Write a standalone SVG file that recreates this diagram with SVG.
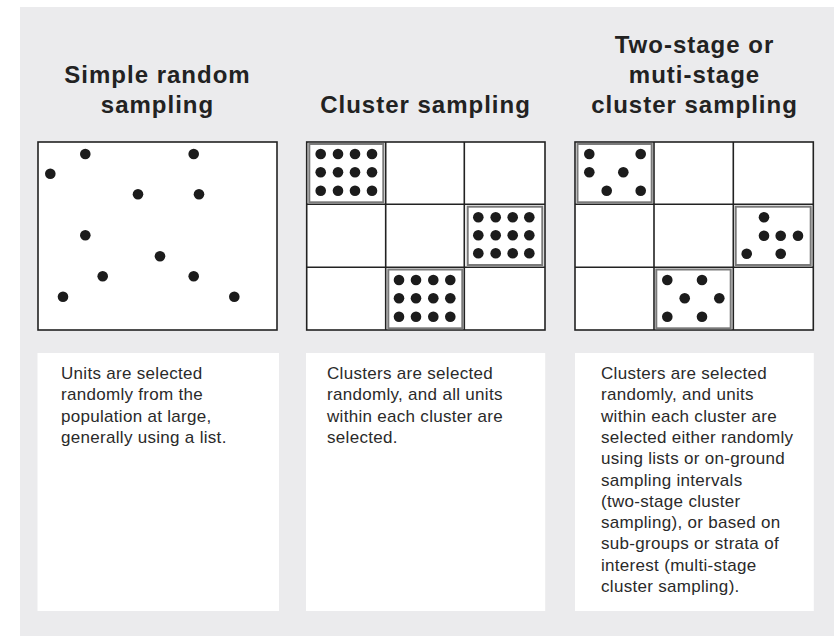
<svg xmlns="http://www.w3.org/2000/svg" width="834" height="636" viewBox="0 0 834 636">
<style>
.title{font-family:"Liberation Sans",Arial,sans-serif;font-weight:bold;font-size:24px;letter-spacing:1px;fill:#222;text-anchor:middle}
.body{font-family:"Liberation Sans",Arial,sans-serif;font-size:17px;letter-spacing:0.3px;fill:#2a2a2a}
.frame{fill:#fff;stroke:#222;stroke-width:1.6}
.grid{stroke:#222;stroke-width:1.6;fill:none}
.clus{fill:#fff;stroke:#7a7a7a;stroke-width:2}
.dot{fill:#1c1c1c}
.card{fill:#fff}
</style>
<defs>
<circle id="d" r="5.3" class="dot"/>
</defs>
<rect x="20" y="7" width="814" height="629" fill="#ebebed"/>

<g id="simple-random">
<text class="title" x="157.5" y="83">Simple random</text>
<text class="title" x="157.5" y="113">sampling</text>
<rect class="frame" x="38" y="142" width="239" height="188"/>
<use href="#d" x="85.3" y="154"/>
<use href="#d" x="193.7" y="154"/>
<use href="#d" x="50.3" y="173.7"/>
<use href="#d" x="138" y="194.3"/>
<use href="#d" x="199" y="194.3"/>
<use href="#d" x="85.3" y="235.3"/>
<use href="#d" x="160" y="256.3"/>
<use href="#d" x="102.7" y="276.3"/>
<use href="#d" x="193.7" y="276.3"/>
<use href="#d" x="63" y="296.7"/>
<use href="#d" x="234.3" y="296.7"/>
</g>

<g id="cluster">
<text class="title" x="425.5" y="113">Cluster sampling</text>
<rect class="frame" x="306.7" y="142" width="238.3" height="188"/>
<path class="grid" d="M385.7 142V330M464.3 142V330M306.7 204.3H545M306.7 267.3H545"/>
<rect class="clus" x="309.3" y="144" width="74" height="58.3"/>
<rect class="clus" x="467.7" y="206.7" width="74.6" height="58.3"/>
<rect class="clus" x="388.3" y="269.5" width="74" height="58.8"/>
<g>
<use href="#d" x="320.7" y="154"/><use href="#d" x="338" y="154"/><use href="#d" x="355" y="154"/><use href="#d" x="372" y="154"/>
<use href="#d" x="320.7" y="172.3"/><use href="#d" x="338" y="172.3"/><use href="#d" x="355" y="172.3"/><use href="#d" x="372" y="172.3"/>
<use href="#d" x="320.7" y="190.7"/><use href="#d" x="338" y="190.7"/><use href="#d" x="355" y="190.7"/><use href="#d" x="372" y="190.7"/>
<use href="#d" x="478.3" y="217.3"/><use href="#d" x="495.7" y="217.3"/><use href="#d" x="512.7" y="217.3"/><use href="#d" x="529.3" y="217.3"/>
<use href="#d" x="478.3" y="235.3"/><use href="#d" x="495.7" y="235.3"/><use href="#d" x="512.7" y="235.3"/><use href="#d" x="529.3" y="235.3"/>
<use href="#d" x="478.3" y="253.3"/><use href="#d" x="495.7" y="253.3"/><use href="#d" x="512.7" y="253.3"/><use href="#d" x="529.3" y="253.3"/>
<use href="#d" x="399" y="280"/><use href="#d" x="416" y="280"/><use href="#d" x="433.3" y="280"/><use href="#d" x="450.3" y="280"/>
<use href="#d" x="399" y="298.3"/><use href="#d" x="416" y="298.3"/><use href="#d" x="433.3" y="298.3"/><use href="#d" x="450.3" y="298.3"/>
<use href="#d" x="399" y="316.7"/><use href="#d" x="416" y="316.7"/><use href="#d" x="433.3" y="316.7"/><use href="#d" x="450.3" y="316.7"/>
</g>
</g>

<g id="multi-stage">
<text class="title" x="694.5" y="53">Two-stage or</text>
<text class="title" x="694.5" y="83">muti-stage</text>
<text class="title" x="694.5" y="113">cluster sampling</text>
<rect class="frame" x="575" y="142" width="238.3" height="188"/>
<path class="grid" d="M654 142V330M733.3 142V330M575 204.3H813.3M575 267.3H813.3"/>
<rect class="clus" x="577.5" y="144" width="74.2" height="58.3"/>
<rect class="clus" x="735.7" y="206.7" width="75" height="58.3"/>
<rect class="clus" x="656.3" y="269.5" width="74.4" height="58.8"/>
<use href="#d" x="589.3" y="154"/><use href="#d" x="640.7" y="154"/>
<use href="#d" x="589.3" y="172.3"/><use href="#d" x="623.3" y="172.3"/>
<use href="#d" x="606.7" y="190.7"/><use href="#d" x="640.7" y="190.7"/>
<use href="#d" x="764" y="217.3"/>
<use href="#d" x="764" y="235.7"/><use href="#d" x="780.7" y="235.7"/><use href="#d" x="798" y="235.7"/>
<use href="#d" x="746.7" y="253.7"/><use href="#d" x="780.7" y="253.7"/>
<use href="#d" x="667.3" y="280"/><use href="#d" x="702" y="280"/>
<use href="#d" x="684.7" y="298.3"/><use href="#d" x="719.3" y="298.3"/>
<use href="#d" x="667.3" y="316.7"/><use href="#d" x="702" y="316.7"/>
</g>

<g id="desc-simple">
<rect class="card" x="37.5" y="353" width="241.5" height="258"/>
<text class="body" x="61" y="379">Units are selected</text>
<text class="body" x="61" y="400.3">randomly from the</text>
<text class="body" x="61" y="421.6">population at large,</text>
<text class="body" x="61" y="442.9">generally using a list.</text>
</g>

<g id="desc-cluster">
<rect class="card" x="306" y="353" width="239.2" height="258"/>
<text class="body" x="327" y="379">Clusters are selected</text>
<text class="body" x="327" y="400.3">randomly, and all units</text>
<text class="body" x="327" y="421.6">within each cluster are</text>
<text class="body" x="327" y="442.9">selected.</text>
</g>

<g id="desc-multi">
<rect class="card" x="575" y="353" width="238.8" height="258"/>
<text class="body" x="601" y="379">Clusters are selected</text>
<text class="body" x="601" y="400.3">randomly, and units</text>
<text class="body" x="601" y="421.6">within each cluster are</text>
<text class="body" x="601" y="442.9">selected either randomly</text>
<text class="body" x="601" y="464.2">using lists or on-ground</text>
<text class="body" x="601" y="485.5">sampling intervals</text>
<text class="body" x="601" y="506.8">(two-stage cluster</text>
<text class="body" x="601" y="528.1">sampling), or based on</text>
<text class="body" x="601" y="549.4">sub-groups or strata of</text>
<text class="body" x="601" y="570.7">interest (multi-stage</text>
<text class="body" x="601" y="592">cluster sampling).</text>
</g>

<g id="connectors"></g>
</svg>
